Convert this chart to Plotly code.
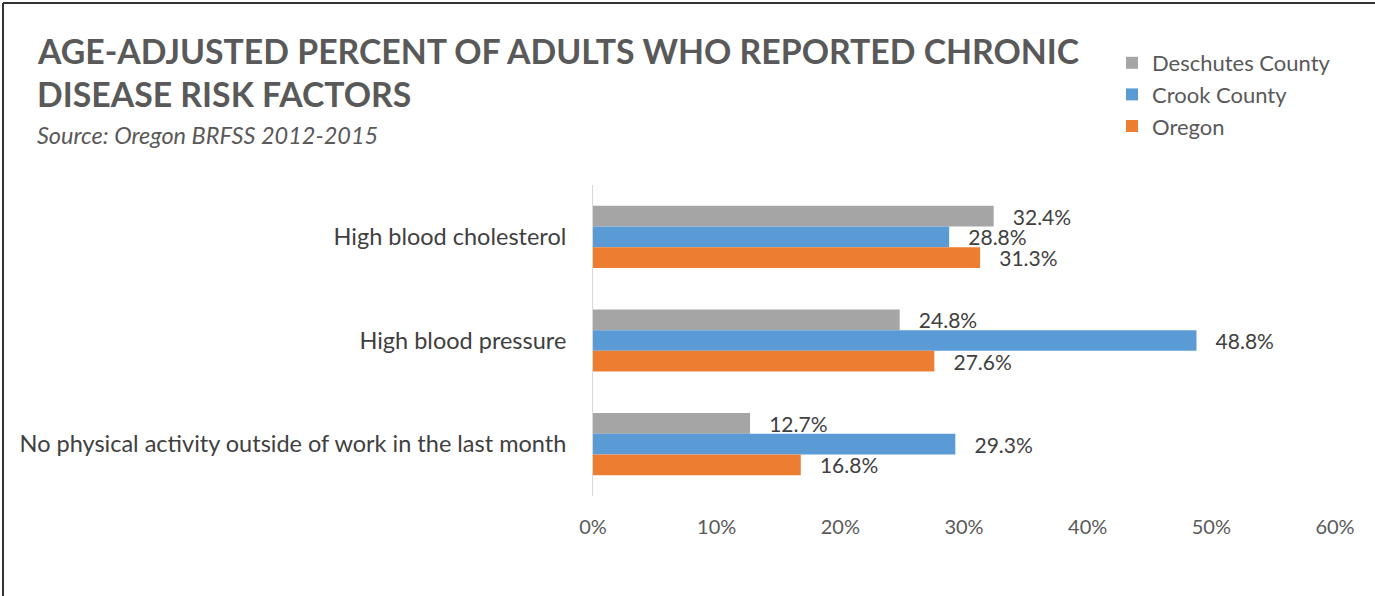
import plotly.graph_objects as go

categories = ["High blood cholesterol", "High blood pressure",
              "No physical activity outside of work in the last month"]
series_names = ["Deschutes County", "Crook County", "Oregon"]
deschutes = [32.4, 24.8, 12.7]
crook = [28.8, 48.8, 29.3]
oregon = [31.3, 27.6, 16.8]
colors = ["#A5A5A5", "#5B9BD5", "#ED7D31"]
x_ticks = [0, 10, 20, 30, 40, 50, 60]
x_tick_labels = ["0%", "10%", "20%", "30%", "40%", "50%", "60%"]

W, H = 1375, 596
L, R, T, B = 593, 40, 185, 100
PW, PH = W - L - R, H - T - B
FONT = "Lato, 'Open Sans', sans-serif"


def px(x):
    return (x - L) / PW


def py(y):
    return (H - B - y) / PH


fig = go.Figure()
for name, vals, col in zip(series_names, [deschutes, crook, oregon], colors):
    fig.add_trace(go.Bar(
        name=name, y=categories, x=vals, orientation="h",
        marker=dict(color=col, line=dict(width=0)),
        texttemplate="\u00a0\u00a0\u00a0%{x:.1f}%", textposition="outside",
        textfont=dict(family=FONT, size=21, color="#404040"),
        constraintext="none", cliponaxis=False,
    ))

fig.update_layout(
    width=W, height=H,
    margin=dict(l=L, r=R, t=T, b=B, pad=0),
    paper_bgcolor="white", plot_bgcolor="white",
    barmode="group", bargap=0.40, bargroupgap=0,
    font=dict(family=FONT, color="#595959"),
    showlegend=True,
    legend=dict(x=px(1112), y=py(42), xanchor="left", yanchor="top",
                font=dict(family=FONT, size=22, color="#595959"),
                bgcolor="rgba(0,0,0,0)", traceorder="normal",
                itemclick=False),
    xaxis=dict(range=[0, 60], tickvals=x_ticks, ticktext=x_tick_labels,
               showgrid=False, zeroline=False, showline=False,
               ticks="", ticklabelstandoff=17,
               tickfont=dict(family=FONT, size=20, color="#595959")),
    yaxis=dict(autorange="reversed", showgrid=False, zeroline=False,
               showline=True, linecolor="#D9D9D9", linewidth=1,
               ticks="", ticklabelstandoff=21,
               tickfont=dict(family=FONT, size=23.5, color="#404040")),
    shapes=[
        dict(type="line", xref="paper", yref="paper",
             x0=px(3), x1=px(W + 5), y0=py(3), y1=py(3),
             line=dict(color="#333333", width=2)),
        dict(type="line", xref="paper", yref="paper",
             x0=px(3), x1=px(3), y0=py(3), y1=py(H + 5),
             line=dict(color="#333333", width=2)),
    ],
    annotations=[
        dict(text="<b>AGE-ADJUSTED PERCENT OF ADULTS WHO REPORTED CHRONIC</b>",
             xref="paper", yref="paper", x=px(35), y=py(51),
             xanchor="left", yanchor="middle", showarrow=False,
             font=dict(family=FONT, size=33.8, color="#595959")),
        dict(text="<b>DISEASE RISK FACTORS</b>",
             xref="paper", yref="paper", x=px(35), y=py(94),
             xanchor="left", yanchor="middle", showarrow=False,
             font=dict(family=FONT, size=33.8, color="#595959")),
        dict(text="<i>Source: Oregon BRFSS 2012-2015</i>",
             xref="paper", yref="paper", x=px(35), y=py(135),
             xanchor="left", yanchor="middle", showarrow=False,
             font=dict(family=FONT, size=23.5, color="#595959")),
    ],
)

fig.write_html(
    "out.html",
    config={"displayModeBar": False},
    post_script="document.body.style.margin='0';"
                "document.body.style.overflow='hidden';",
)
